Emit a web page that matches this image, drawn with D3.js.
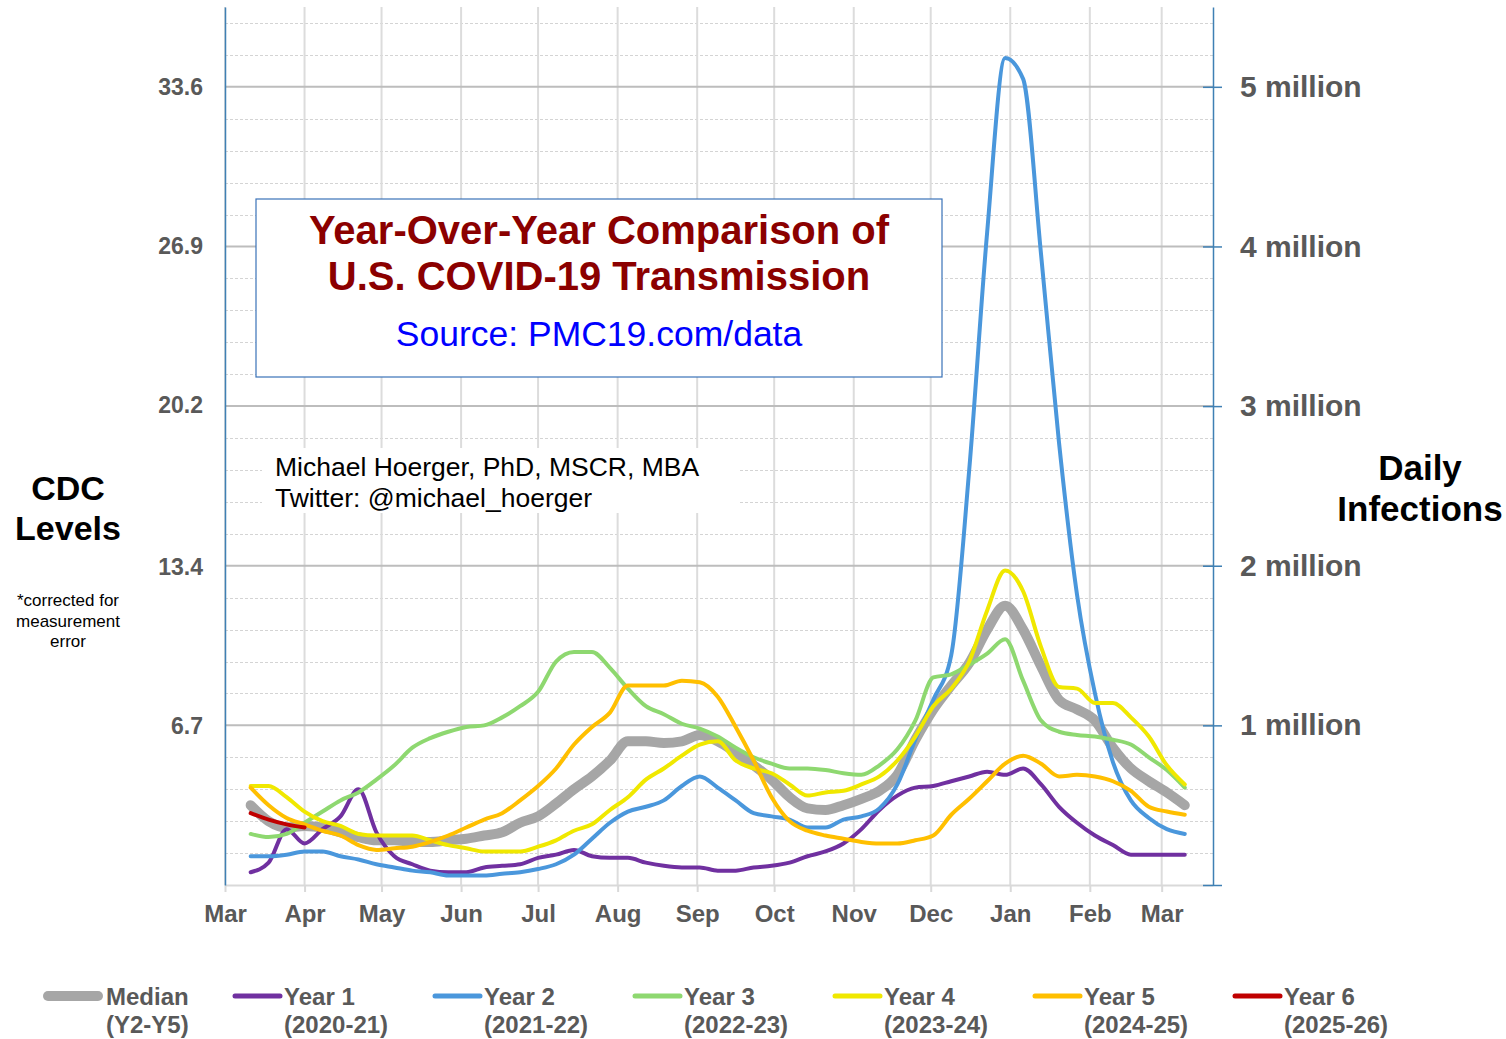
<!DOCTYPE html>
<html>
<head>
<meta charset="utf-8">
<script src="https://cdn.jsdelivr.net/npm/d3@7"></script>
<style>
  body { margin: 0; background: #fff; }
  text { font-family: Arial, "Liberation Sans", sans-serif; }
</style>
</head>
<body>
<div id="chart"></div>
<script>
// weekly readings (daily infections, millions), first week is mid March
var firstWeek = new Date(2022, 2, 11);

var median = [0.50,0.40,0.36,0.37,0.36,0.33,0.30,0.28,0.28,0.27,0.27,0.28,0.29,0.31,0.33,0.39,0.43,0.51,0.60,0.68,
              0.78,0.90,0.90,0.89,0.90,0.94,0.90,0.83,0.75,0.66,0.55,0.48,0.47,0.50,0.54,0.59,0.69,0.91,1.10,1.25,
              1.39,1.60,1.75,1.60,1.37,1.16,1.10,1.03,0.86,0.73,0.65,0.58,0.50];
var year1 = [0.08,0.14,0.35,0.26,0.35,0.43,0.60,0.33,0.18,0.13,0.09,0.08,0.08,0.11,0.12,0.13,0.17,0.19,0.22,0.18,
             0.17,0.17,0.14,0.12,0.11,0.11,0.09,0.09,0.11,0.12,0.14,0.18,0.21,0.26,0.35,0.47,0.56,0.61,0.62,0.65,
             0.68,0.71,0.69,0.73,0.63,0.49,0.39,0.31,0.25,0.19,0.19,0.19,0.19];
var year2 = [0.18,0.18,0.19,0.21,0.21,0.18,0.16,0.13,0.11,0.09,0.08,0.06,0.06,0.06,0.07,0.08,0.10,0.13,0.19,0.29,
             0.39,0.46,0.49,0.53,0.62,0.68,0.61,0.53,0.45,0.43,0.41,0.36,0.36,0.41,0.43,0.48,0.63,0.91,1.16,1.44,
             2.60,4.09,5.18,5.05,3.95,2.77,1.82,1.20,0.77,0.53,0.42,0.35,0.32];
var year3 = [0.32,0.30,0.32,0.39,0.46,0.53,0.58,0.66,0.75,0.86,0.92,0.96,0.99,1.00,1.05,1.12,1.21,1.40,1.46,1.46,
             1.36,1.23,1.12,1.07,1.01,0.98,0.93,0.86,0.80,0.76,0.73,0.73,0.72,0.70,0.69,0.75,0.85,1.03,1.30,1.32,
             1.38,1.45,1.54,1.28,1.03,0.96,0.94,0.93,0.91,0.88,0.80,0.72,0.61];
var year4 = [0.62,0.62,0.55,0.46,0.40,0.37,0.32,0.31,0.31,0.31,0.28,0.25,0.23,0.21,0.21,0.21,0.24,0.28,0.34,0.38,
             0.47,0.55,0.66,0.73,0.81,0.88,0.90,0.78,0.73,0.70,0.63,0.56,0.58,0.59,0.63,0.68,0.78,0.93,1.12,1.23,
             1.40,1.72,1.97,1.84,1.49,1.24,1.23,1.14,1.14,1.05,0.93,0.75,0.63];
var year5 = [0.61,0.50,0.42,0.38,0.34,0.31,0.25,0.22,0.23,0.24,0.27,0.31,0.36,0.41,0.45,0.53,0.62,0.73,0.88,0.99,
             1.08,1.25,1.25,1.25,1.28,1.27,1.18,0.99,0.78,0.55,0.40,0.34,0.31,0.29,0.27,0.26,0.26,0.28,0.31,0.44,
             0.54,0.65,0.76,0.81,0.76,0.68,0.69,0.68,0.65,0.59,0.49,0.46,0.44];
var year6 = [0.45,0.41,0.38,0.36];

var seriesNames = ["Median", "Year 1", "Year 2", "Year 3", "Year 4", "Year 5", "Year 6"];
var seriesYears = ["(Y2-Y5)", "(2020-21)", "(2021-22)", "(2022-23)", "(2023-24)", "(2024-25)", "(2025-26)"];
var rightTicks = [0, 1, 2, 3, 4, 5];
var leftTicks = [6.7, 13.4, 20.2, 26.9, 33.6];
var cdcPerMillion = 6.72;

var colors = ["#a6a6a6", "#7030a0", "#4a97dc", "#8ed870", "#f0e800", "#ffbf00", "#c00000"];
var widths = [10, 4, 4, 4, 4, 4, 4];
var allValues = [median, year1, year2, year3, year4, year5, year6];

var W = 1506, H = 1039;
var svg = d3.select("#chart").append("svg")
    .attr("width", W)
    .attr("height", H);

var plotL = 225, plotR = 1213, plotT = 7, plotB = 885;

var x = d3.scaleTime()
    .domain([new Date(2022, 2, 1), new Date(2023, 2, 21)])
    .range([plotL, plotR]);
var y = d3.scaleLinear().domain([0, 5.5]).range([plotB, plotT]);
var yCdc = d3.scaleLinear().domain([0, 5.5 * cdcPerMillion]).range([plotB, plotT]);

// minor dashed grid
var minor = d3.range(1, 28).map(function(k) { return k * 0.2; })
    .filter(function(v) { return Math.abs(v - Math.round(v)) > 0.01; });
svg.append("g").selectAll("line")
    .data(minor).enter().append("line")
    .attr("x1", plotL).attr("x2", plotR)
    .attr("y1", function(d) { return Math.round(y(d)) + 0.5; })
    .attr("y2", function(d) { return Math.round(y(d)) + 0.5; })
    .attr("stroke", "#d4d4d4")
    .attr("stroke-dasharray", "3,2");

// month grid
var months = x.ticks(d3.timeMonth.every(1));
svg.append("g").selectAll("line")
    .data(months).enter().append("line")
    .attr("x1", function(d) { return x(d); }).attr("x2", function(d) { return x(d); })
    .attr("y1", plotT).attr("y2", plotB)
    .attr("stroke", "#dcdcdc")
    .attr("stroke-width", 2);

// major grid
svg.append("g").selectAll("line")
    .data(rightTicks.slice(1)).enter().append("line")
    .attr("x1", plotL).attr("x2", plotR)
    .attr("y1", function(d) { return y(d); })
    .attr("y2", function(d) { return y(d); })
    .attr("stroke", "#bdbdbd")
    .attr("stroke-width", 2);

// x axis
var xAxis = svg.append("g")
    .attr("transform", "translate(0," + plotB + ")")
    .call(d3.axisBottom(x)
        .ticks(d3.timeMonth.every(1))
        .tickFormat(d3.timeFormat("%b"))
        .tickSize(7)
        .tickSizeOuter(0)
        .tickPadding(13));
xAxis.select(".domain").attr("stroke", "#d9d9d9").attr("stroke-width", 2);
xAxis.selectAll(".tick line").attr("stroke", "#d9d9d9").attr("stroke-width", 2);
xAxis.selectAll("text")
    .style("font-size", "24px")
    .style("font-weight", "bold")
    .attr("fill", "#595959");

// left axis (CDC levels)
var yLeft = svg.append("g")
    .attr("transform", "translate(" + plotL + ",0)")
    .call(d3.axisLeft(yCdc).tickValues(leftTicks)
        .tickFormat(d3.format(".1f"))
        .tickSize(0).tickSizeOuter(0).tickPadding(22));
yLeft.select(".domain").attr("stroke", "#3f80b4").attr("stroke-width", 1.5);
yLeft.selectAll("text")
    .style("font-size", "23px")
    .style("font-weight", "bold")
    .attr("fill", "#595959");

// right axis (daily infections)
var yRight = svg.append("g")
    .attr("transform", "translate(" + plotR + ",0)")
    .call(d3.axisRight(y).tickValues(rightTicks)
        .tickFormat(function(d) { return d ? d + " million" : ""; })
        .tickSize(9).tickSizeOuter(0).tickPadding(18));
yRight.select(".domain").attr("stroke", "#3f80b4").attr("stroke-width", 1.5);
yRight.selectAll(".tick line").attr("x1", -10).attr("stroke", "#3f80b4").attr("stroke-width", 1.5);
yRight.selectAll("text")
    .style("font-size", "30px")
    .style("font-weight", "bold")
    .attr("fill", "#595959");

// title box
svg.append("rect")
    .attr("x", 256).attr("y", 199).attr("width", 686).attr("height", 178)
    .attr("fill", "#fff").attr("stroke", "#3a72b8").attr("stroke-width", 1.2);
svg.append("text").attr("x", 599).attr("y", 244).attr("text-anchor", "middle")
    .style("font-size", "40px").style("font-weight", "bold").attr("fill", "#8b0000")
    .text("Year-Over-Year Comparison of");
svg.append("text").attr("x", 599).attr("y", 290).attr("text-anchor", "middle")
    .style("font-size", "40px").style("font-weight", "bold").attr("fill", "#8b0000")
    .text("U.S. COVID-19 Transmission");
svg.append("text").attr("x", 599).attr("y", 346).attr("text-anchor", "middle")
    .style("font-size", "35.5px").attr("fill", "#0000ff")
    .text("Source: PMC19.com/data");

// author note
svg.append("rect")
    .attr("x", 262).attr("y", 448).attr("width", 478).attr("height", 65)
    .attr("fill", "#fff");
svg.append("text").attr("x", 275).attr("y", 476)
    .style("font-size", "26.5px").attr("fill", "#000")
    .text("Michael Hoerger, PhD, MSCR, MBA");
svg.append("text").attr("x", 275).attr("y", 507)
    .style("font-size", "26.5px").attr("fill", "#000")
    .text("Twitter: @michael_hoerger");

// series
var line = d3.line()
    .x(function(d, i) { return x(d3.timeDay.offset(firstWeek, 7 * i)); })
    .y(function(d) { return y(d); })
    .curve(d3.curveMonotoneX);

svg.append("g").selectAll("path")
    .data(allValues).enter().append("path")
    .attr("d", function(d) { return line(d); })
    .attr("fill", "none")
    .attr("stroke", function(d, i) { return colors[i]; })
    .attr("stroke-width", function(d, i) { return widths[i]; })
    .attr("stroke-linejoin", "round")
    .attr("stroke-linecap", "round");

// side titles
var sideTitle = function(cx, lines, y0, step, size, bold) {
    lines.forEach(function(t, i) {
        svg.append("text").attr("x", cx).attr("y", y0 + i * step)
            .attr("text-anchor", "middle")
            .style("font-size", size + "px")
            .style("font-weight", bold ? "bold" : "normal")
            .attr("fill", "#000")
            .text(t);
    });
};
sideTitle(68, ["CDC", "Levels"], 500, 40, 34, true);
sideTitle(68, ["*corrected for", "measurement", "error"], 606, 20.5, 17, false);
sideTitle(1420, ["Daily", "Infections"], 480, 41, 35, true);

// legend
var legend = svg.append("g").selectAll("g")
    .data(seriesNames).enter().append("g")
    .attr("transform", function(d, i) {
        return "translate(" + (i === 0 ? 48 : 35 + 200 * i) + ",996)";
    });
legend.append("line")
    .attr("x1", 0)
    .attr("x2", function(d, i) { return i === 0 ? 50 : 45; })
    .attr("stroke", function(d, i) { return colors[i]; })
    .attr("stroke-width", function(d, i) { return i === 0 ? 10 : 5; })
    .attr("stroke-linecap", "round");
legend.append("text")
    .attr("x", function(d, i) { return i === 0 ? 58 : 49; })
    .attr("y", 9)
    .style("font-size", "24px").style("font-weight", "bold").attr("fill", "#595959")
    .text(function(d) { return d; });
legend.append("text")
    .attr("x", function(d, i) { return i === 0 ? 58 : 49; })
    .attr("y", 37)
    .style("font-size", "24px").style("font-weight", "bold").attr("fill", "#595959")
    .text(function(d, i) { return seriesYears[i]; });
</script>
</body>
</html>
